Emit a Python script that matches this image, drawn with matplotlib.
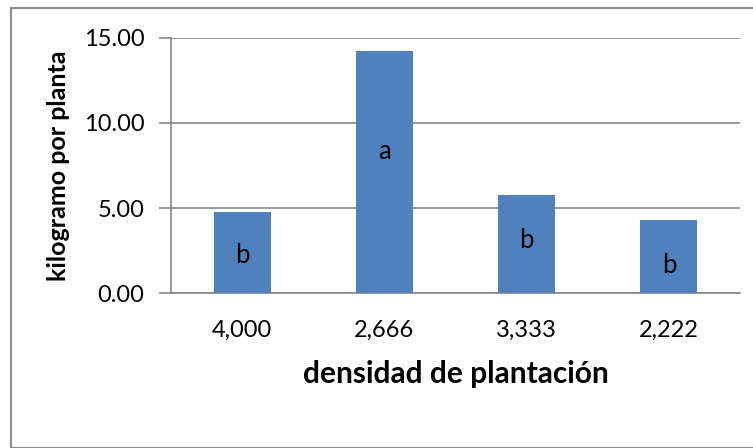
import matplotlib
matplotlib.use("Agg")
import matplotlib.pyplot as plt
from matplotlib.patches import Rectangle

categories = ["4,000", "2,666", "3,333", "2,222"]
kg_per_plant = [4.76, 14.2, 5.78, 4.28]
groups = ["b", "a", "b", "b"]
group_label_y = [2.2, 8.3, 3.1, 1.66]

plt.rcParams["font.family"] = ["Lato", "DejaVu Sans"]

fig = plt.figure(figsize=(7.53, 4.48), dpi=100)
fig.patch.set_facecolor("white")

# chart-area frame
W, H = 753, 448
fig.patches.append(Rectangle((11 / W, 0), 1.2, 1 - 8.5 / H, transform=fig.transFigure,
                             fill=False, edgecolor="#8c8c8c", linewidth=1.5))

ax = fig.add_axes([171 / W, (H - 293.3) / H, 569 / W, 255.6 / H])
x = range(len(categories))
ax.bar(x, kg_per_plant, width=0.4, color="#4F81BD", zorder=3)
for xi, g, gy in zip(x, groups, group_label_y):
    ax.text(xi, gy, g, ha="center", va="center", fontsize=18.5, color="black", zorder=4)

ax.set_xlim(-0.5, len(categories) - 0.5)
ax.set_ylim(0, 15)
ax.set_yticks([0, 5, 10, 15])
ax.set_yticklabels([f"{v:.2f}" for v in [0, 5, 10, 15]])
ax.set_xticks(list(x))
ax.set_xticklabels(categories)

ax.grid(axis="y", color="#868686", linewidth=1.2, zorder=0)
for side in ["top", "right"]:
    ax.spines[side].set_visible(False)
for side in ["left", "bottom"]:
    ax.spines[side].set_color("#868686")
    ax.spines[side].set_linewidth(1.2)
ax.tick_params(axis="y", length=9, width=1.2, color="#868686", labelsize=17, pad=10)
ax.tick_params(axis="x", length=0, labelsize=17, pad=19)

ax.set_ylabel("kilogramo por planta", fontsize=18, fontweight="bold", labelpad=10)
ax.set_xlabel("densidad de plantación", fontsize=21.5, fontweight="bold", labelpad=14)

fig.savefig("out.png", dpi=100, facecolor="white")
